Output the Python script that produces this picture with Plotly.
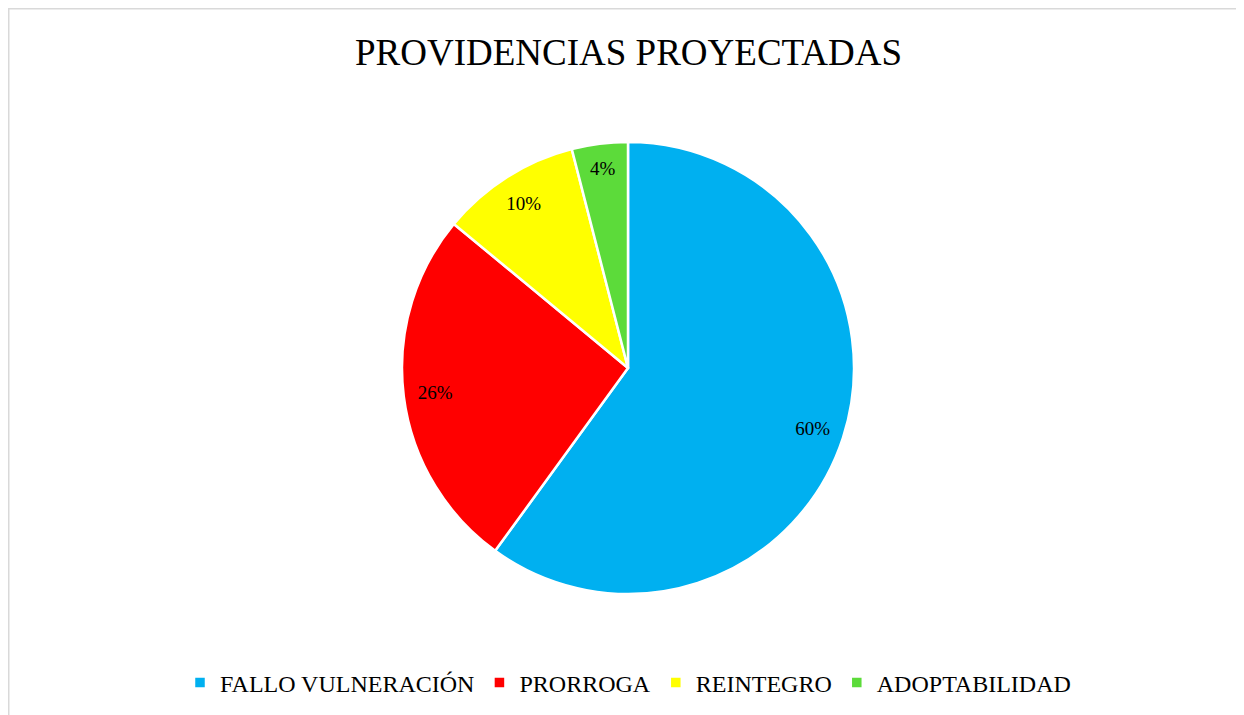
import plotly.graph_objects as go

categories = ["FALLO VULNERACIÓN", "PRORROGA", "REINTEGRO", "ADOPTABILIDAD"]
values = [60, 26, 10, 4]
colors = ["#00B0F0", "#FF0000", "#FFFF00", "#5CDB3A"]

W, H = 1244, 715
# page body has an 8px offset in the screenshot
cx, cy, r = 620, 360, 226
dom = dict(x=[(cx - r) / W, (cx + r) / W], y=[(H - cy - r) / H, (H - cy + r) / H])

fig = go.Figure()
# filled pie with legend
fig.add_trace(go.Pie(
    labels=categories,
    values=values,
    sort=False,
    direction="clockwise",
    rotation=0,
    marker=dict(colors=colors, line=dict(color="white", width=2.5)),
    textinfo="none",
    domain=dom,
    hoverinfo="label+percent",
))
# transparent ring used only to place percentage labels near the outer edge
fig.add_trace(go.Pie(
    labels=categories,
    values=values,
    sort=False,
    direction="clockwise",
    rotation=0,
    hole=0.72,
    marker=dict(colors=["rgba(0,0,0,0)"] * len(values), line=dict(width=0)),
    texttemplate="%{percent:.0%}",
    textposition="inside",
    insidetextorientation="horizontal",
    textfont=dict(family="Liberation Serif", size=19, color="black"),
    domain=dom,
    showlegend=False,
    hoverinfo="skip",
))

fig.update_layout(
    width=W, height=H,
    margin=dict(l=0, r=0, t=0, b=0),
    paper_bgcolor="white",
    plot_bgcolor="white",
    font=dict(family="Liberation Serif", color="black"),
    showlegend=True,
    legend=dict(orientation="h", x=(628 - 8) / W, xanchor="center", y=(H - 675) / H, yanchor="middle",
                font=dict(family="Liberation Serif", size=24, color="black"),
                itemwidth=30, traceorder="normal"),
    annotations=[dict(text="PROVIDENCIAS PROYECTADAS", x=cx / W, y=(H - 44) / H,
                      xref="paper", yref="paper", xanchor="center", yanchor="middle",
                      showarrow=False, font=dict(family="Liberation Serif", size=37, color="black"))],
    shapes=[dict(type="rect", xref="paper", yref="paper",
                 x0=0, y0=-0.05, x1=1.05, y1=1,
                 line=dict(color="#D9D9D9", width=3), fillcolor="rgba(0,0,0,0)", layer="below")],
)

fig.write_html("out.html")
